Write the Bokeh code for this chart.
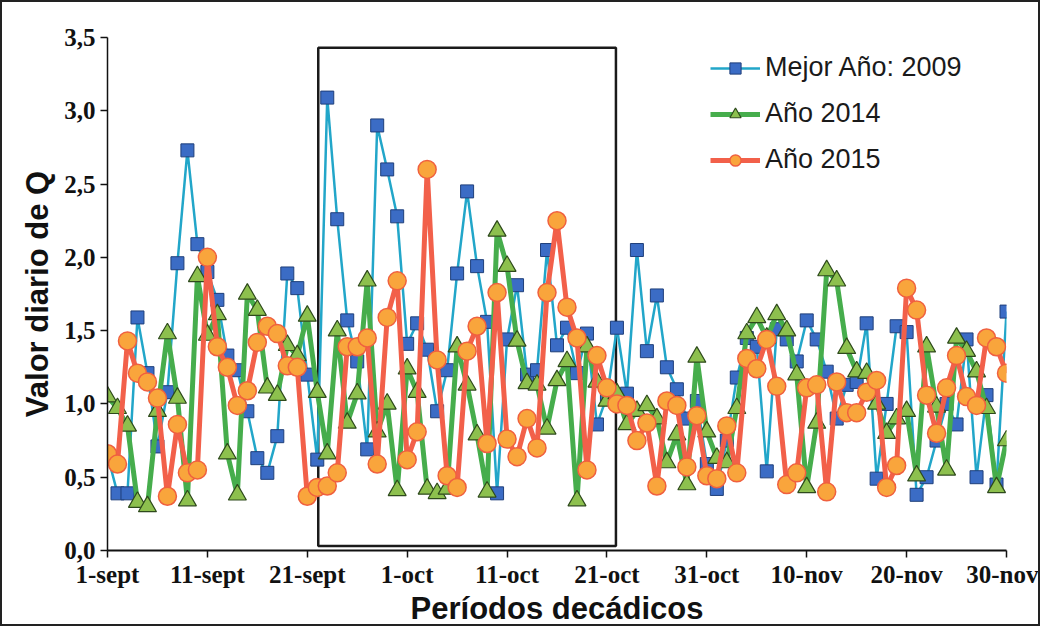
from bokeh.plotting import figure
from bokeh.models import FixedTicker, CustomJSTickFormatter, Legend, LegendItem, Range1d
from bokeh.embed import file_html
from bokeh.resources import INLINE

# ---------------- data ----------------
dias = list(range(91))  # 1-sept ... 30-nov
tick_pos = [0, 10, 20, 30, 40, 50, 60, 70, 80, 90]
tick_labels = ["1-sept", "11-sept", "21-sept", "1-oct", "11-oct",
               "21-oct", "31-oct", "10-nov", "20-nov", "30-nov"]

mejor_2009 = [0.65, 0.39, 0.39, 1.59, 1.21, 0.71, 1.08, 1.96, 2.73, 2.09,
              1.90, 1.71, 1.33, 1.23, 0.95, 0.63, 0.53, 0.78, 1.89, 1.79,
              1.20, 0.62, 3.09, 2.26, 1.57, 1.29, 0.69, 2.90, 2.60, 2.28,
              1.41, 1.55, 1.37, 0.95, 1.23, 1.89, 2.45, 1.94, 1.56, 0.39,
              1.44, 1.81, 1.20, 1.23, 2.05, 1.40, 1.52, 1.21, 1.48, 0.86,
              1.05, 1.52, 1.07, 2.05, 1.36, 1.74, 1.25, 1.10, 0.90, 1.02,
              0.59, 0.42, 0.75, 1.18, 1.45, 1.39, 0.54, 1.51, 1.44, 1.29,
              1.57, 1.44, 1.22, 0.90, 1.13, 1.15, 1.55, 0.49, 1.00, 1.53,
              1.49, 0.38, 0.50, 0.75, 1.00, 0.86, 1.44, 0.50, 1.06, 0.45,
              1.63]

anio_2014 = [1.05, 0.97, 0.85, 0.33, 0.30, 0.95, 1.48, 1.04, 0.34, 1.87,
             1.47, 1.61, 0.66, 0.38, 1.75, 1.64, 1.11, 1.06, 1.40, 1.33,
             1.60, 1.08, 0.66, 1.50, 0.87, 1.07, 1.84, 0.81, 1.00, 0.41,
             1.24, 1.08, 0.42, 0.39, 0.42, 1.39, 1.13, 0.79, 0.40, 2.18,
             1.94, 1.43, 1.14, 1.13, 0.83, 1.16, 1.29, 0.34, 1.39, 1.15,
             1.02, 1.07, 0.86, 0.95, 0.99, 0.90, 0.60, 0.79, 0.45, 1.32,
             0.81, 0.63, 0.60, 0.97, 1.48, 1.59, 1.45, 1.61, 1.50, 1.20,
             0.43, 0.87, 1.91, 1.84, 1.38, 1.22, 1.21, 1.00, 0.80, 0.90,
             0.95, 0.51, 1.39, 0.98, 0.55, 1.45, 1.36, 1.22, 0.97, 0.43,
             0.75]

anio_2015 = [0.66, 0.59, 1.43, 1.21, 1.15, 1.04, 0.37, 0.86, 0.53, 0.55,
             2.00, 1.39, 1.25, 0.99, 1.09, 1.42, 1.53, 1.48, 1.26, 1.25,
             0.37, 0.43, 0.44, 0.53, 1.39, 1.39, 1.45, 0.59, 1.59, 1.84,
             0.62, 0.81, 2.60, 1.30, 0.51, 0.43, 1.36, 1.53, 0.73, 1.76,
             0.76, 0.64, 0.90, 0.70, 1.76, 2.25, 1.66, 1.45, 0.55, 1.33,
             1.11, 1.00, 0.99, 0.75, 0.87, 0.44, 1.02, 0.99, 0.57, 0.92,
             0.51, 0.49, 0.85, 0.53, 1.31, 1.24, 1.44, 1.12, 0.45, 0.53,
             1.11, 1.13, 0.40, 1.15, 0.94, 0.94, 1.08, 1.16, 0.43, 0.58,
             1.79, 1.64, 1.06, 0.80, 1.11, 1.33, 1.05, 0.99, 1.45, 1.39,
             1.21]

serie_nombres = ["Mejor Año: 2009", "Año 2014", "Año 2015"]

# highlighted period (rectangle), in days from 1-sept and Q units
recuadro_inicio = 21.1
recuadro_fin = 50.9
recuadro_base = 0.03
recuadro_techo = 3.43

# ---------------- figure ----------------
p = figure(width=1040, height=626, output_backend="svg", toolbar_location=None,
           x_range=Range1d(0, 90), y_range=Range1d(0, 3.5),
           min_border_left=105, min_border_right=36, min_border_top=35,
           min_border_bottom=70)
p.outline_line_color = None
p.xgrid.visible = False
p.ygrid.visible = False
p.background_fill_color = "white"
p.border_fill_color = "white"

# rectangle
p.quad(left=[recuadro_inicio], right=[recuadro_fin], bottom=[recuadro_base],
       top=[recuadro_techo], fill_color=None, line_color="#1a1a1a", line_width=2.5)

# series
l1 = p.line(dias, mejor_2009, line_color="#22a6c9", line_width=2.5)
s1 = p.scatter(dias, mejor_2009, marker="square", size=13,
               fill_color="#3b6cc5", line_color="#1f3f7a", line_width=1)
l2 = p.line(dias, anio_2014, line_color="#46ad4c", line_width=5)
s2 = p.scatter(dias, anio_2014, marker="triangle", size=18,
               fill_color="#8dc04e", line_color="#2e4a1c", line_width=1.2)
l3 = p.line(dias, anio_2015, line_color="#f2604a", line_width=5)
s3 = p.scatter(dias, anio_2015, marker="circle", size=18,
               fill_color="#f9a53c", line_color="#f0603f", line_width=1.5)

# axes
xa = p.xaxis[0]
xa.ticker = FixedTicker(ticks=tick_pos)
xa.major_label_overrides = {t: l for t, l in zip(tick_pos, tick_labels)}
xa.minor_tick_line_color = None
xa.major_tick_out = 7
xa.major_tick_in = 0
xa.axis_line_width = 2
xa.axis_line_color = "#111111"
xa.major_tick_line_color = "#111111"
xa.major_tick_line_width = 1.5
xa.major_label_text_font = "Liberation Serif"
xa.major_label_text_font_style = "bold"
xa.major_label_text_font_size = "25px"
xa.major_label_text_color = "#111111"
xa.major_label_standoff = 3
xa.axis_label = "Períodos decádicos"
xa.axis_label_text_font = "Liberation Sans"
xa.axis_label_text_font_style = "bold"
xa.axis_label_text_font_size = "31px"
xa.axis_label_text_color = "#111111"
xa.axis_label_standoff = 0

ya = p.yaxis[0]
ya.ticker = FixedTicker(ticks=[0, 0.5, 1.0, 1.5, 2.0, 2.5, 3.0, 3.5])
ya.formatter = CustomJSTickFormatter(code="return tick.toFixed(1).replace('.', ',');")
ya.minor_tick_line_color = None
ya.major_tick_out = 7
ya.major_tick_in = 0
ya.axis_line_width = 1.5
ya.axis_line_color = "#111111"
ya.major_tick_line_color = "#111111"
ya.major_tick_line_width = 1.5
ya.major_label_text_font = "Liberation Serif"
ya.major_label_text_font_style = "bold"
ya.major_label_text_font_size = "25px"
ya.major_label_text_color = "#111111"
ya.major_label_standoff = 5
ya.axis_label = "Valor diario de Q"
ya.axis_label_text_font = "Liberation Sans"
ya.axis_label_text_font_style = "bold"
ya.axis_label_text_font_size = "31px"
ya.axis_label_text_color = "#111111"
ya.axis_label_standoff = 6

# legend
legend = Legend(items=[
    LegendItem(label=serie_nombres[0], renderers=[l1, s1]),
    LegendItem(label=serie_nombres[1], renderers=[l2, s2]),
    LegendItem(label=serie_nombres[2], renderers=[l3, s3]),
], location=(603, 375))
legend.label_text_font = "Liberation Sans"
legend.label_text_font_size = "27px"
legend.label_text_color = "#1a1a1a"
legend.glyph_width = 50
legend.glyph_height = 28
legend.label_height = 28
legend.spacing = 15
legend.padding = 0
legend.margin = 0
legend.label_standoff = 5
legend.border_line_alpha = 0
legend.background_fill_alpha = 0
p.add_layout(legend, "center")

p.styles = {"border": "2px solid #222222", "box-sizing": "border-box"}

open("out.html", "w").write(file_html(p, INLINE))
